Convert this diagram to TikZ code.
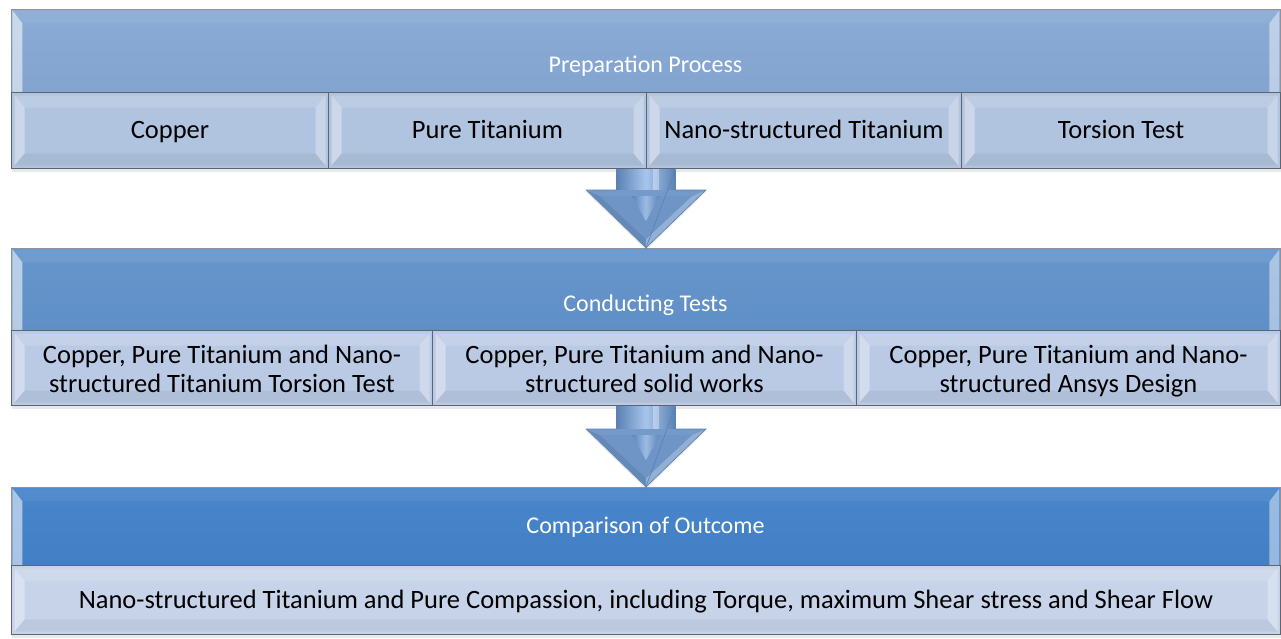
\documentclass[tikz,border=0pt]{standalone}
\usepackage{fontspec}
\setmainfont{Carlito}
\usetikzlibrary{calc,shadows}
\definecolor{bandAt}{HTML}{8BABD5}
\definecolor{bandAb}{HTML}{82A4CF}
\definecolor{bandBt}{HTML}{6796CB}
\definecolor{bandBb}{HTML}{5F8FC7}
\definecolor{bandCt}{HTML}{4985CA}
\definecolor{bandCb}{HTML}{437FC5}
\definecolor{subA}{HTML}{B1C4DF}
\definecolor{subB}{HTML}{BACAE4}
\definecolor{subC}{HTML}{C6D3E9}
\definecolor{edgec}{HTML}{5E6570}
\definecolor{arrowc}{HTML}{6E95C6}
\definecolor{arrowd}{HTML}{5A80B4}
\definecolor{arrowl}{HTML}{A8C6EC}
\newcommand{\toplinestrut}{\rule{0pt}{28pt}}
\tikzset{
  bandbox/.style={draw=edgec!70, line width=0.8pt, anchor=north west, inner sep=0pt,
    path picture={
      \fill[white,opacity=0.55] let \p1=(path picture bounding box.north west), \p2=(path picture bounding box.south east) in
        (\x1+1pt,\y1-1pt) -- (\x1+11pt,\y1-14pt) -- (\x1+11pt,\y2) -- (\x1+1pt,\y2) -- cycle;
      \fill[white,opacity=0.45] let \p1=(path picture bounding box.north west), \p2=(path picture bounding box.south east) in
        (\x2-1pt,\y1-1pt) -- (\x2-11pt,\y1-14pt) -- (\x2-11pt,\y2) -- (\x2-1pt,\y2) -- cycle;
      \fill[white,opacity=0.06] let \p1=(path picture bounding box.north west), \p2=(path picture bounding box.south east) in
        (\x1+1pt,\y1-1pt) -- (\x2-1pt,\y1-1pt) -- (\x2-11pt,\y1-14pt) -- (\x1+11pt,\y1-14pt) -- cycle;
    }},
  subbox/.style={draw=edgec, line width=1pt, anchor=north west, inner sep=0pt, align=center,
    font=\fontsize{26.5}{29}\selectfont, text=black,
    drop shadow={shadow xshift=0pt, shadow yshift=-3pt, opacity=0.18},
    path picture={
      \fill[white,opacity=0.35] let \p1=(path picture bounding box.north west), \p2=(path picture bounding box.south east) in
        (\x1+3pt,\y1-3pt) -- (\x1+13pt,\y1-15pt) -- (\x1+13pt,\y2+15pt) -- (\x1+3pt,\y2+3pt) -- cycle;
      \fill[white,opacity=0.30] let \p1=(path picture bounding box.north west), \p2=(path picture bounding box.south east) in
        (\x2-3pt,\y1-3pt) -- (\x2-13pt,\y1-15pt) -- (\x2-13pt,\y2+15pt) -- (\x2-3pt,\y2+3pt) -- cycle;
      \fill[white,opacity=0.15] let \p1=(path picture bounding box.north west), \p2=(path picture bounding box.south east) in
        (\x1+3pt,\y1-3pt) -- (\x2-3pt,\y1-3pt) -- (\x2-13pt,\y1-15pt) -- (\x1+13pt,\y1-15pt) -- cycle;
      \fill[black,opacity=0.05] let \p1=(path picture bounding box.north west), \p2=(path picture bounding box.south east) in
        (\x1+3pt,\y2+3pt) -- (\x2-3pt,\y2+3pt) -- (\x2-13pt,\y2+15pt) -- (\x1+13pt,\y2+15pt) -- cycle;
    }},
  oneline/.style={text height=20pt, text depth=4pt},
  hdrtext/.style={text=white, font=\fontsize{24}{28}\selectfont, inner sep=0pt}
}
\begin{document}
\begin{tikzpicture}[x=1pt,y=-1pt]
\useasboundingbox[fill=white] (0,0) rectangle (1281,638);

% ---------- bands ----------
\node[bandbox, top color=bandAt, bottom color=bandAb, minimum width=1269pt, minimum height=83pt] (b1) at (11,9) {};
\node[bandbox, top color=bandBt, bottom color=bandBb, minimum width=1269pt, minimum height=82pt] (b2) at (11,248) {};
\node[bandbox, top color=bandCt, bottom color=bandCb, minimum width=1269pt, minimum height=78pt] (b3) at (11,487) {};

\node[hdrtext] (h1) at (645.5,66) {Preparation Process};
\node[hdrtext] (h2) at (645.5,305) {Conducting Tests};
\node[hdrtext] (h3) at (645.5,527) {Comparison of Outcome};

% ---------- row 1 ----------
\node[subbox, oneline, fill=subA, minimum width=317pt, minimum height=76pt] (s11) at (11,92) {Copper};
\node[subbox, oneline, fill=subA, minimum width=318pt, minimum height=76pt] (s12) at (328,92) {Pure Titanium};
\node[subbox, oneline, fill=subA, minimum width=315pt, minimum height=76pt] (s13) at (646,92) {Nano-structured Titanium};
\node[subbox, oneline, fill=subA, minimum width=319pt, minimum height=76pt] (s14) at (961,92) {Torsion Test};

% ---------- row 2 ----------
\node[subbox, fill=subB, minimum width=421pt, minimum height=75pt] (s21) at (11,330) {\toplinestrut Copper, Pure Titanium and Nano-\\\strut structured Titanium Torsion Test};
\node[subbox, fill=subB, minimum width=424pt, minimum height=75pt] (s22) at (432,330) {\toplinestrut Copper, Pure Titanium and Nano-\\\strut structured solid works};
\node[subbox, fill=subB, minimum width=424pt, minimum height=75pt] (s23) at (856,330) {\toplinestrut Copper, Pure Titanium and Nano-\\\strut structured Ansys Design};

% ---------- row 3 ----------
\node[subbox, oneline, fill=subC, minimum width=1269pt, minimum height=69pt] (s31) at (11,565) {Nano-structured Titanium and Pure Compassion, including Torque, maximum Shear stress and Shear Flow};

% ---------- arrows ----------
\foreach \src/\dst in {s12/b2, s22/b3}{
  \path let \p1=(\src.south east), \p2=(\dst.north) in
    coordinate (st) at (\x2,\y1) coordinate (tp) at (\x2,\y2);
  \path let \p1=(st), \p2=(tp) in
    coordinate (hl) at (\x2-60pt,\y2+58pt)
    coordinate (hr) at (\x2+60pt,\y2+58pt)
    coordinate (sl) at (\x2-29.5pt,\y2+58pt)
    coordinate (sr) at (\x2+29.5pt,\y2+58pt)
    coordinate (sl0) at (\x2-29.5pt,\y1)
    coordinate (sr0) at (\x2+29.5pt,\y1)
    coordinate (ihl) at (\x2-46pt,\y2+52pt)
    coordinate (ihr) at (\x2+46pt,\y2+52pt)
    coordinate (itp) at (\x2,\y2+9pt);
  % shaft
  \shade[left color=arrowd, right color=arrowd, middle color=arrowl] (sl0) rectangle (sr);
  \fill[white,opacity=0.35] ($(sl0)!0.62!(sr0)$) rectangle ($(sl)!0.72!(sr)$);
  % head
  \fill[arrowc, drop shadow={shadow xshift=0pt, shadow yshift=-2pt, opacity=0.15}] (hl) -- (sl) -- (sr) -- (hr) -- (tp) -- cycle;
  \fill[arrowc!92!black] (hl) -- (ihl) -- (itp) -- (tp) -- cycle;
  \fill[arrowc!75!white] (hr) -- (ihr) -- (itp) -- (tp) -- cycle;
  \fill[arrowc!95!white] (hl) -- (hr) -- (ihr) -- (ihl) -- cycle;
  \fill[arrowc] (ihl) -- (ihr) -- (itp) -- cycle;
  \shade[left color=arrowd, right color=arrowd, middle color=arrowl, opacity=0.8] ($(ihl)!0.35!(ihr)$) -- ($(ihl)!0.65!(ihr)$) -- ($(itp)+(0,-18)$) -- cycle;
  \draw[arrowd, line width=0.6pt] (hl) -- (sl) -- (sl0) (sr0) -- (sr) -- (hr) -- (tp) -- cycle;
}
\end{tikzpicture}
\end{document}
